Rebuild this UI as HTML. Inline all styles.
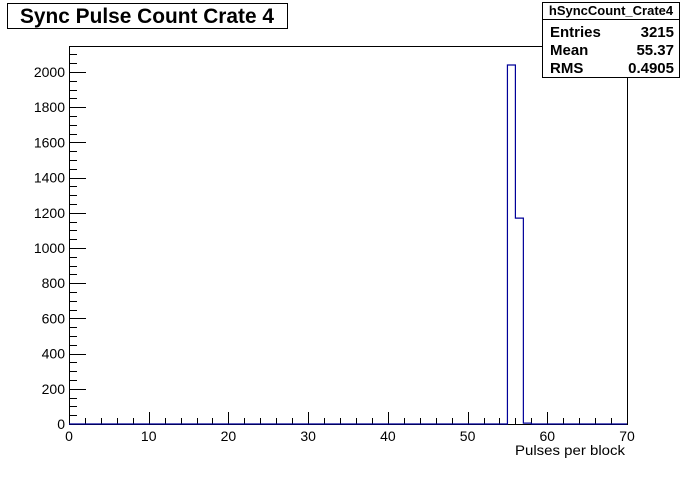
<!DOCTYPE html>
<html><head><meta charset="utf-8"><style>
body{margin:0;background:#fff;}
svg text{font-family:"Liberation Sans",Arial,sans-serif;}
</style></head><body>
<svg width="696" height="472" xmlns="http://www.w3.org/2000/svg">
<rect width="696" height="472" fill="#fff"/>
<g id="axes"></g>
<g id="hist"></g>
<rect x="7.5" y="3.5" width="280" height="25" fill="#fff" stroke="#000"/>
<text x="147" y="23" font-size="21" font-weight="bold" text-anchor="middle" textLength="254" lengthAdjust="spacingAndGlyphs">Sync Pulse Count Crate 4</text>
<g>
<rect x="542.5" y="2.5" width="137" height="75" fill="#fff" stroke="#000"/>
<line x1="542" y1="19.5" x2="680" y2="19.5" stroke="#000"/>
<text x="611" y="15" font-size="13" font-weight="bold" text-anchor="middle">hSyncCount_Crate4</text>
<text x="550" y="37" font-size="15" font-weight="bold">Entries</text>
<text x="674" y="37" font-size="15" font-weight="bold" text-anchor="end">3215</text>
<text x="550" y="55" font-size="15" font-weight="bold">Mean</text>
<text x="674" y="55" font-size="15" font-weight="bold" text-anchor="end">55.37</text>
<text x="550" y="73" font-size="15" font-weight="bold">RMS</text>
<text x="674" y="73" font-size="15" font-weight="bold" text-anchor="end">0.4905</text>
</g>
<text x="625" y="455" font-size="14" text-anchor="end" textLength="110" lengthAdjust="spacingAndGlyphs">Pulses per block</text>
</svg>
<script>
const binLows=[55,56,57];
const binCounts=[2040,1170,5];
const xTicks=[0,10,20,30,40,50,60,70];
const yTicks=[0,200,400,600,800,1000,1200,1400,1600,1800,2000];
const X0=69,X1=627,Y0=424,Y1=46,XMAX=70,YMAX=2148;
const sx=v=>X0+(X1-X0)*v/XMAX;
const sy=v=>Y0-(Y0-Y1)*v/YMAX;
const NS="http://www.w3.org/2000/svg";
const ax=document.getElementById('axes');
function mk(t,a,p){const e=document.createElementNS(NS,t);for(const k in a)e.setAttribute(k,a[k]);(p||ax).appendChild(e);return e;}
const fr=mk('rect',{x:X0+0.5,y:Y1+0.5,width:X1-X0,height:Y0-Y1,fill:'none',stroke:'#000'});


for(let v=0;v<=XMAX;v+=2){const maj=v%10===0;const x=Math.round(sx(v))+0.5;
 const l=mk('line',{x1:x,y1:Y0,x2:x,y2:Y0-(maj?12:6),stroke:'#000'});
 
 }
xTicks.forEach(v=>{const t=mk('text',{x:sx(v),y:Y0+17,'font-size':14,'text-anchor':'middle'});t.textContent=v;
 
 });
for(let v=0;v<=YMAX;v+=50){const maj=v%200===0;const y=Math.round(sy(v))+0.5;
 const l=mk('line',{x1:X0,y1:y,x2:X0+(maj?17:8),y2:y,stroke:'#000'});
 
 }
yTicks.forEach(v=>{const t=mk('text',{x:X0-4,y:sy(v)+5,'font-size':14,'text-anchor':'end'});t.textContent=v;
 
 });
let d='M'+sx(0)+','+Y0+' L'+sx(binLows[0])+','+Y0;
binLows.forEach((b,i)=>{d+=' L'+sx(b)+','+sy(binCounts[i])+' L'+sx(b+1)+','+sy(binCounts[i]);});
d+=' L'+sx(binLows[binLows.length-1]+1)+','+Y0+' L'+sx(XMAX)+','+Y0;
const p=mk('path',{d:d,fill:'none',stroke:'#000099','stroke-width':1.2},document.getElementById('hist'));


</script>
</body></html>
